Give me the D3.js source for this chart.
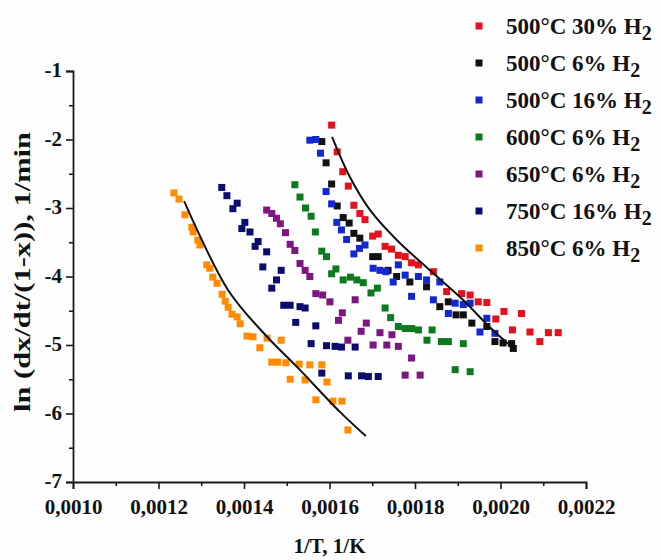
<!DOCTYPE html>
<html>
<head>
<meta charset="utf-8">
<script src="https://cdn.jsdelivr.net/npm/d3@7"></script>
<style>
  html, body { margin: 0; padding: 0; background: #fdfdfd; }
  svg { display: block; }
  text { font-family: "Liberation Serif", "Times New Roman", serif; font-weight: bold; fill: #111; }
</style>
</head>
<body>
<svg id="chart" width="661" height="560"></svg>
<script>
// ---- data ----
const xTicks = [0.0010, 0.0012, 0.0014, 0.0016, 0.0018, 0.0020, 0.0022];
const xMinorTicks = [0.0011, 0.0013, 0.0015, 0.0017, 0.0019, 0.0021];
const yTicks = [-7, -6, -5, -4, -3, -2, -1];
const yMinorTicks = [-6.5, -5.5, -4.5, -3.5, -2.5, -1.5];
const xTitle = "1/T, 1/K";
const yTitle = "ln (dx/dt/(1-x)), 1/min";

const seriesNames = ["500°C 30% H", "500°C 6% H", "500°C 16% H", "600°C 6% H", "650°C 6% H", "750°C 16% H", "850°C 6% H"];
const seriesColors = ["#e5101c", "#111111", "#1428d2", "#0c7a1e", "#7e1682", "#0c0c6e", "#ff8c00"];

const red500_30 = [[0.001605,-1.79],[0.001618,-2.18],[0.001631,-2.47],[0.001644,-2.68],[0.001657,-2.96],[0.001671,-3.08],[0.001683,-3.17],[0.001701,-3.41],[0.001714,-3.38],[0.001730,-3.56],[0.001745,-3.60],[0.001761,-3.69],[0.001777,-3.71],[0.001792,-3.80],[0.001808,-3.83],[0.001843,-3.93],[0.001874,-4.22],[0.001909,-4.25],[0.001929,-4.27],[0.001948,-4.37],[0.001968,-4.38],[0.001989,-4.62],[0.002008,-4.51],[0.002028,-4.78],[0.002049,-4.54],[0.002069,-4.81],[0.002092,-4.95],[0.002112,-4.82],[0.002135,-4.82]];
const black500_6 = [[0.001582,-2.03],[0.001592,-2.34],[0.001605,-2.65],[0.001618,-2.97],[0.001632,-3.14],[0.001646,-3.22],[0.001657,-3.37],[0.001671,-3.44],[0.001701,-3.71],[0.001714,-3.71],[0.001737,-3.91],[0.001757,-4.00],[0.001788,-4.08],[0.001827,-4.15],[0.001858,-4.44],[0.001878,-4.37],[0.001896,-4.56],[0.001913,-4.56],[0.001933,-4.68],[0.001968,-4.73],[0.001987,-4.95],[0.002006,-4.97],[0.002026,-4.98],[0.002030,-5.05]];
const blue500_16 = [[0.001554,-2.01],[0.001568,-2.00],[0.001579,-2.20],[0.001592,-2.76],[0.001605,-2.94],[0.001617,-3.21],[0.001628,-3.32],[0.001640,-3.46],[0.001657,-3.67],[0.001670,-3.59],[0.001683,-3.54],[0.001702,-3.88],[0.001718,-3.91],[0.001732,-3.93],[0.001749,-4.08],[0.001761,-3.83],[0.001777,-3.98],[0.001792,-4.29],[0.001808,-4.00],[0.001827,-4.05],[0.001843,-4.34],[0.001858,-4.08],[0.001878,-4.54],[0.001894,-4.39],[0.001913,-4.41],[0.001929,-4.39],[0.001952,-4.81],[0.001968,-4.61],[0.001987,-4.83]];
const green600_6 = [[0.001519,-2.66],[0.001531,-2.84],[0.001544,-3.00],[0.001557,-3.12],[0.001567,-3.35],[0.001582,-3.63],[0.001593,-3.71],[0.001615,-3.89],[0.001605,-3.96],[0.001632,-4.05],[0.001649,-4.01],[0.001664,-4.05],[0.001679,-4.09],[0.001697,-4.24],[0.001712,-4.17],[0.001730,-4.46],[0.001743,-4.60],[0.001761,-4.73],[0.001777,-4.76],[0.001792,-4.76],[0.001808,-4.78],[0.001840,-4.78],[0.001828,-4.93],[0.001862,-4.95],[0.001878,-4.95],[0.001913,-4.98],[0.001894,-5.36],[0.001929,-5.39]];
const purple650_6 = [[0.001453,-3.03],[0.001465,-3.08],[0.001476,-3.15],[0.001485,-3.23],[0.001497,-3.36],[0.001508,-3.53],[0.001519,-3.62],[0.001531,-3.81],[0.001543,-3.91],[0.001554,-4.00],[0.001568,-4.25],[0.001584,-4.27],[0.001601,-4.37],[0.001660,-4.34],[0.001630,-4.53],[0.001621,-4.64],[0.001686,-4.68],[0.001674,-4.80],[0.001718,-4.82],[0.001746,-4.85],[0.001643,-4.93],[0.001702,-5.00],[0.001734,-5.00],[0.001761,-5.02],[0.001792,-5.19],[0.001777,-5.44],[0.001812,-5.44]];
const navy750_16 = [[0.001348,-2.70],[0.001360,-2.82],[0.001374,-3.01],[0.001384,-2.93],[0.001402,-3.21],[0.001395,-3.30],[0.001414,-3.35],[0.001433,-3.49],[0.001426,-3.56],[0.001453,-3.64],[0.001444,-3.86],[0.001487,-3.91],[0.001476,-4.05],[0.001465,-4.17],[0.001493,-4.42],[0.001508,-4.42],[0.001531,-4.44],[0.001543,-4.46],[0.001521,-4.67],[0.001568,-4.72],[0.001557,-4.98],[0.001593,-5.01],[0.001613,-5.02],[0.001628,-5.03],[0.001660,-5.03],[0.001582,-5.41],[0.001644,-5.45],[0.001675,-5.45],[0.001691,-5.46],[0.001714,-5.46]];
const orange850_6 = [[0.001236,-2.78],[0.001248,-2.87],[0.001262,-3.10],[0.001278,-3.28],[0.001281,-3.35],[0.001292,-3.47],[0.001297,-3.54],[0.001313,-3.83],[0.001320,-3.88],[0.001327,-4.01],[0.001337,-4.10],[0.001349,-4.26],[0.001356,-4.36],[0.001363,-4.45],[0.001372,-4.55],[0.001384,-4.59],[0.001391,-4.69],[0.001407,-4.87],[0.001421,-4.88],[0.001437,-5.04],[0.001454,-4.90],[0.001487,-4.93],[0.001465,-5.25],[0.001479,-5.25],[0.001498,-5.26],[0.001529,-5.28],[0.001554,-5.29],[0.001582,-5.29],[0.001508,-5.50],[0.001543,-5.51],[0.001594,-5.54],[0.001568,-5.80],[0.001608,-5.82],[0.001629,-5.82],[0.001643,-6.24]];

// fitted curves
const fitLow = [[0.001260,-2.90],[0.001363,-4.20],[0.001454,-4.88],[0.001524,-5.32],[0.001625,-5.98],[0.001685,-6.33]];
const fitHigh = [[0.001606,-1.96],[0.001648,-2.55],[0.001695,-3.03],[0.001758,-3.47],[0.001835,-3.91],[0.001912,-4.34],[0.001975,-4.74],[0.002034,-5.07]];

const seriesData = [red500_30, black500_6, blue500_16, green600_6, purple650_6, navy750_16, orange850_6];

// ---- chart ----
const svg = d3.select("#chart");
const x = d3.scaleLinear().domain([0.0010, 0.0022]).range([73, 586]);
const y = d3.scaleLinear().domain([-7, -1]).range([482, 71]);
const axisColor = "#1a1a1a";
const fontFam = "Liberation Serif, Times New Roman, serif";

// points
const markerSize = 7;
seriesData.forEach((data, i) => {
  svg.append("g").selectAll("rect").data(data).join("rect")
    .attr("x", d => x(d[0]) - markerSize / 2)
    .attr("y", d => y(d[1]) - markerSize / 2)
    .attr("width", markerSize).attr("height", markerSize)
    .attr("fill", seriesColors[i]);
});

// fit lines
const line = d3.line().x(d => x(d[0])).y(d => y(d[1])).curve(d3.curveCatmullRom.alpha(0.5));
[fitLow, fitHigh].forEach(f => {
  svg.append("path").attr("d", line(f)).attr("fill", "none")
    .attr("stroke", "#111").attr("stroke-width", 2);
});

// axes
const gx = svg.append("g").attr("transform", `translate(0,${y(-7)})`)
  .call(d3.axisBottom(x).tickValues(xTicks).tickSize(7).tickPadding(10)
    .tickFormat(d => d.toFixed(4).replace(".", ",")));
const gxm = svg.append("g").attr("transform", `translate(0,${y(-7)})`)
  .call(d3.axisBottom(x).tickValues(xMinorTicks).tickSize(4).tickFormat(""));
const gy = svg.append("g").attr("transform", `translate(${x(0.0010)},0)`)
  .call(d3.axisLeft(y).tickValues(yTicks).tickSize(7).tickPadding(4)
    .tickFormat(d => String(d)));
const gym = svg.append("g").attr("transform", `translate(${x(0.0010)},0)`)
  .call(d3.axisLeft(y).tickValues(yMinorTicks).tickSize(4).tickFormat(""));

[gx, gxm, gy, gym].forEach(g => {
  g.select(".domain").attr("stroke", axisColor).attr("stroke-width", 1.8);
  g.selectAll(".tick line").attr("stroke", axisColor).attr("stroke-width", 1.6);
});
[gxm, gym].forEach(g => g.select(".domain").remove());
[gx, gy].forEach(g => g.selectAll("text").attr("font-size", 21).attr("fill", "#111")
  .attr("font-family", fontFam).attr("font-weight", "bold"));
gy.selectAll("text").attr("dy", "0.28em");

// axis titles
svg.append("text").attr("x", (x(0.0010) + x(0.0022)) / 2).attr("y", 553)
  .attr("text-anchor", "middle").attr("font-size", 21).text(xTitle);
svg.append("text").attr("transform", `translate(30,272) rotate(-90)`)
  .attr("text-anchor", "middle").attr("font-size", 23)
  .attr("textLength", 280).attr("lengthAdjust", "spacingAndGlyphs")
  .text(yTitle);

// legend
const legend = svg.append("g");
seriesNames.forEach((name, i) => {
  const cy = 26 + i * 37;
  legend.append("rect").attr("x", 479 - markerSize / 2).attr("y", cy - markerSize / 2)
    .attr("width", markerSize).attr("height", markerSize).attr("fill", seriesColors[i]);
  const t = legend.append("text").attr("x", 506).attr("y", cy + 8).attr("font-size", 23);
  t.append("tspan").text(name);
  t.append("tspan").attr("font-size", 20).attr("dy", 6).text("2");
});
</script>
</body>
</html>
